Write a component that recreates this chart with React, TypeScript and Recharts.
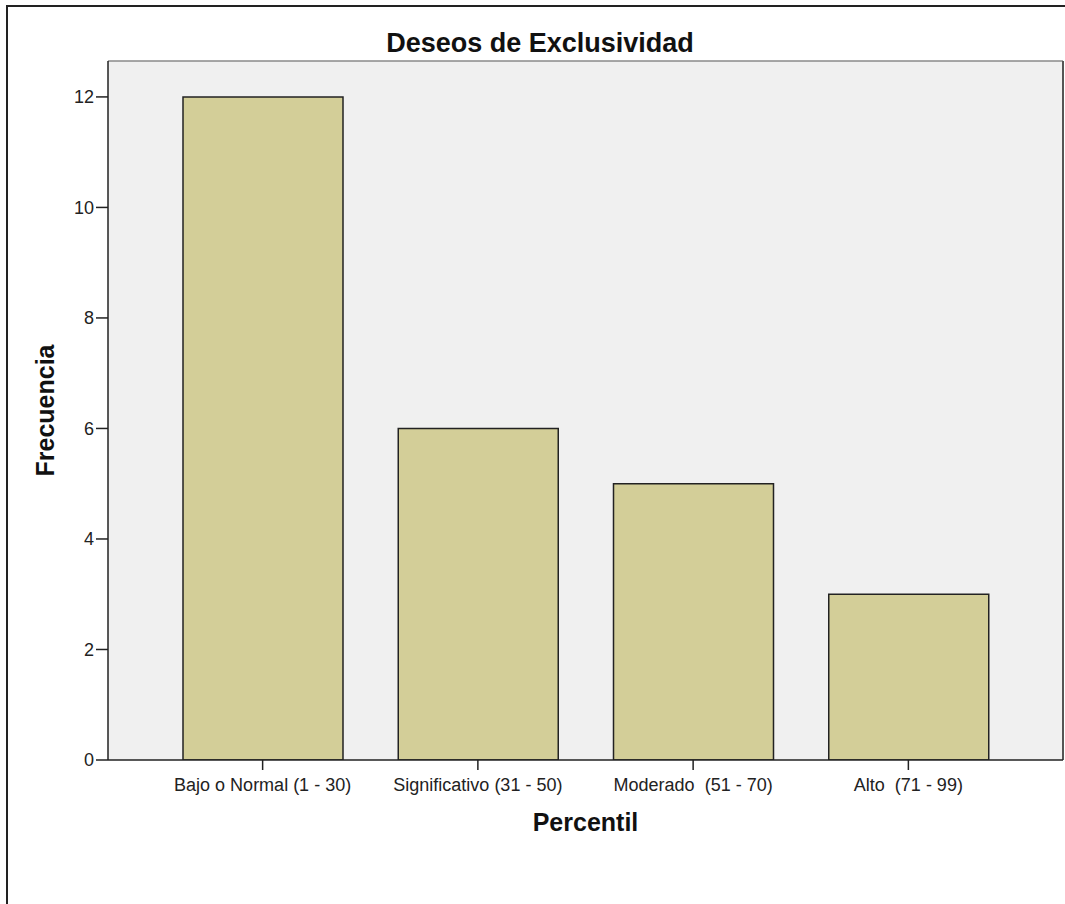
import { BarChart, Bar, XAxis, YAxis, CartesianGrid } from 'recharts';

const categories = [
  'Bajo o Normal (1 - 30)',
  'Significativo (31 - 50)',
  'Moderado\u00A0 (51 - 70)',
  'Alto\u00A0 (71 - 99)',
];
const frecuencias = [12, 6, 5, 3];
const yTicks = [0, 2, 4, 6, 8, 10, 12];

const data = categories.map((c, i) => ({ percentil: c, frecuencia: frecuencias[i] }));

const font = '"Liberation Sans", Arial, sans-serif';

export default function App() {
  return (
    <div style={{ position: 'absolute', left: 0, top: 0, width: 1065, height: 904, overflow: 'hidden', background: '#fff', fontFamily: font }}>
      {/* outer frame, right/bottom edges fall outside the picture */}
      <div style={{ position: 'absolute', left: 6, top: 5, width: 1100, height: 950, borderLeft: '2px solid #222', borderTop: '2px solid #222' }} />
      <div style={{ position: 'absolute', left: 0, top: 30, width: 1080, textAlign: 'center', fontSize: 27, lineHeight: '27px', fontWeight: 'bold', color: '#111' }}>
        Deseos de Exclusividad
      </div>
      <div style={{ position: 'absolute', left: 0, top: 0 }}>
        <BarChart width={1065} height={904} data={data} margin={{ top: 61, right: 2, left: 0, bottom: 0 }}>
          {/* plot background + top edge of the plot frame */}
          <CartesianGrid
            fill="#F0F0F0"
            vertical={false}
            stroke="#8a8a8a"
            strokeWidth={1.5}
            horizontalCoordinatesGenerator={(p: any) => [p.offset.top]}
          />
          {/* right edge of the plot frame */}
          <CartesianGrid
            horizontal={false}
            stroke="#555"
            strokeWidth={2}
            verticalCoordinatesGenerator={(p: any) => [p.offset.left + p.offset.width]}
          />
          <XAxis
            dataKey="percentil"
            height={144}
            padding={{ left: 47, right: 47 }}
            axisLine={{ stroke: '#222', strokeWidth: 1.5 }}
            tickLine={{ stroke: '#222', strokeWidth: 1.5 }}
            tickSize={10}
            tickMargin={8}
            interval={0}
            tick={{ fontSize: 18, fill: '#222', fontFamily: font }}
            label={{ value: 'Percentil', position: 'insideTop', offset: 53, fontSize: 25, fontWeight: 'bold', fill: '#111', fontFamily: font }}
          />
          <YAxis
            width={108}
            domain={[0, 12.65]}
            ticks={yTicks}
            allowDataOverflow
            axisLine={{ stroke: '#222', strokeWidth: 1.5 }}
            tickLine={{ stroke: '#222', strokeWidth: 1.5 }}
            tickSize={12}
            tickMargin={2}
            tick={{ fontSize: 18, fill: '#222', fontFamily: font }}
            label={{
              content: (props: any) => {
                const vb = props.viewBox || {};
                const x = vb.x + 45;
                const y = vb.y + vb.height / 2;
                return (
                  <text x={x} y={y} transform={`rotate(-90, ${x}, ${y})`} textAnchor="middle" dominantBaseline="central" fontSize={25} fontWeight="bold" fill="#111" fontFamily={font}>
                    Frecuencia
                  </text>
                );
              },
            }}
          />
          <Bar dataKey="frecuencia" fill="#D3CE98" stroke="#222" strokeWidth={1.5} barSize={160} isAnimationActive={false} />
        </BarChart>
      </div>
    </div>
  );
}
